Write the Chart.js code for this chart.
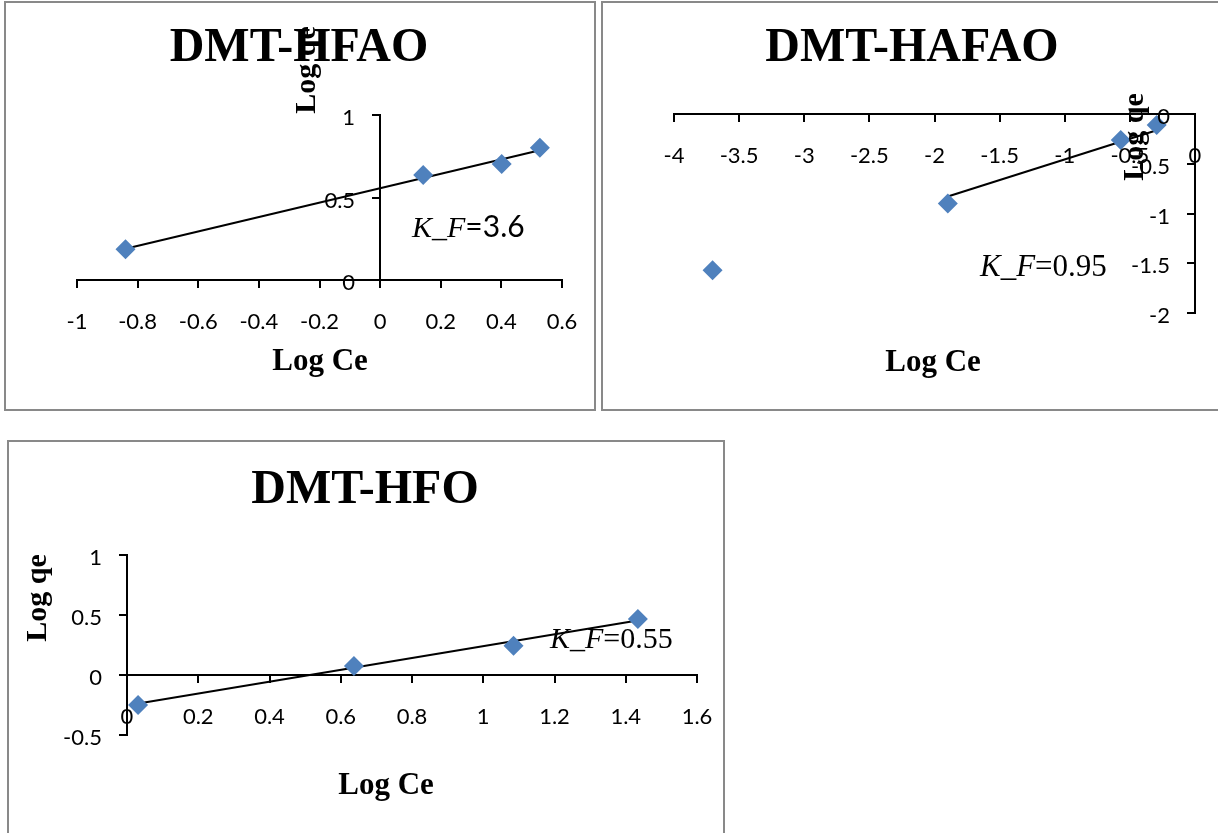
<!DOCTYPE html>
<html lang="en">
<head>
    <meta charset="UTF-8">
    <title>Freundlich isotherms</title>
    <script src="https://cdn.jsdelivr.net/npm/chart.js"></script>
    <style>
        * {
            margin: 0;
            padding: 0;
            box-sizing: content-box;
        }
        body {
            width: 1218px;
            height: 833px;
            overflow: hidden;
            background: #fff;
            position: relative;
        }
        .box {
            position: absolute;
            border: 2px solid #898989;
            background: #fff;
        }
        .box canvas {
            display: block;
        }
    </style>
</head>
<body>
    <div class="box" style="left:4px;top:1px;width:588px;height:406px;">
        <canvas id="hfao" width="588" height="406"></canvas>
    </div>
    <div class="box" style="left:601px;top:1px;width:615px;height:406px;">
        <canvas id="hafao" width="615" height="406"></canvas>
    </div>
    <div class="box" style="left:7px;top:440px;width:714px;height:396px;">
        <canvas id="hfo" width="714" height="396"></canvas>
    </div>
    <script>
        // DMT-HFAO
        const hfaoLogCe = [-0.84, 0.142, 0.401, 0.527];
        const hfaoLogQe = [0.186, 0.636, 0.703, 0.802];
        const hfaoFitCe = [-0.84, 0.527];
        const hfaoFitQe = [0.189, 0.786];
        const hfaoXTicks = [-1, -0.8, -0.6, -0.4, -0.2, 0, 0.2, 0.4, 0.6];
        const hfaoYTicks = [0, 0.5, 1];

        // DMT-HAFAO
        const hafaoLogCe = [-3.704, -1.898, -0.570, -0.294];
        const hafaoLogQe = [-1.571, -0.899, -0.262, -0.111];
        const hafaoFitCe = [-1.898, -0.294];
        const hafaoFitQe = [-0.829, -0.163];
        const hafaoXTicks = [-4, -3.5, -3, -2.5, -2, -1.5, -1, -0.5, 0];
        const hafaoYTicks = [-2, -1.5, -1, -0.5, 0];

        // DMT-HFO
        const hfoLogCe = [0.031, 0.637, 1.085, 1.434];
        const hfoLogQe = [-0.25, 0.075, 0.244, 0.467];
        const hfoFitCe = [0.032, 1.433];
        const hfoFitQe = [-0.238, 0.455];
        const hfoXTicks = [0, 0.2, 0.4, 0.6, 0.8, 1, 1.2, 1.4, 1.6];
        const hfoYTicks = [-0.5, 0, 0.5, 1];

        const MARKER = '#4F81BD';
        const SERIF = '"Liberation Serif", "Times New Roman", serif';

        function toPoints(xs, ys) {
            return xs.map((x, i) => ({ x: x, y: ys[i] }));
        }

        // tick labels (the axes cross at 0), titles, axis titles and the K_F note
        const textPlugin = {
            id: 'sketchText',
            afterDraw(chart, args, opts) {
                const ctx = chart.ctx;
                const xs = chart.scales.x;
                const ys = chart.scales.y;
                const axisX = xs.getPixelForValue(0);
                const axisY = ys.getPixelForValue(0);
                ctx.save();
                ctx.fillStyle = '#000';
                ctx.font = '22px Lato';
                ctx.textBaseline = 'middle';

                ctx.textAlign = 'right';
                opts.yTicks.forEach(v => {
                    ctx.fillText(String(v), axisX - 25, ys.getPixelForValue(v) + 3);
                });
                ctx.textAlign = 'center';
                opts.xTicks.forEach(v => {
                    ctx.fillText(String(v), xs.getPixelForValue(v), axisY + 42);
                });

                ctx.textBaseline = 'alphabetic';
                opts.items.forEach(it => {
                    ctx.save();
                    ctx.font = it.font;
                    ctx.textAlign = 'center';
                    ctx.translate(it.x, it.y);
                    if (it.rotate) ctx.rotate(-Math.PI / 2);
                    ctx.fillText(it.text, 0, 0);
                    ctx.restore();
                });

                let x = opts.note.x;
                ctx.textAlign = 'left';
                opts.note.parts.forEach(p => {
                    ctx.font = p.font;
                    ctx.fillText(p.text, x, opts.note.y);
                    x += ctx.measureText(p.text).width;
                });
                ctx.restore();
            }
        };

        function makeChart(id, cfg) {
            const grid = { display: true, drawOnChartArea: false, drawTicks: true, tickLength: 7, color: '#000', lineWidth: 2 };
            const border = { display: true, color: '#000', width: 2 };
            return new Chart(document.getElementById(id), {
                type: 'scatter',
                data: {
                    datasets: [{
                        data: toPoints(cfg.xs, cfg.ys),
                        showLine: false,
                        pointStyle: 'rectRot',
                        pointRadius: 10,
                        pointHoverRadius: 10,
                        borderWidth: 0,
                        backgroundColor: MARKER,
                        borderColor: MARKER,
                        clip: false
                    }, {
                        data: toPoints(cfg.fitX, cfg.fitY),
                        showLine: true,
                        pointRadius: 0,
                        borderColor: '#000',
                        borderWidth: 2,
                        clip: false
                    }]
                },
                options: {
                    responsive: false,
                    animation: false,
                    events: [],
                    layout: { padding: cfg.padding },
                    plugins: {
                        legend: { display: false },
                        tooltip: { enabled: false },
                        sketchText: { xTicks: cfg.xTicks, yTicks: cfg.yTicks, items: cfg.items, note: cfg.note }
                    },
                    scales: {
                        x: {
                            type: 'linear',
                            position: { y: 0 },
                            min: cfg.xTicks[0],
                            max: cfg.xTicks[cfg.xTicks.length - 1],
                            afterBuildTicks: s => { s.ticks = cfg.xTicks.map(v => ({ value: v })); },
                            ticks: { display: false },
                            grid: grid,
                            border: border
                        },
                        y: {
                            type: 'linear',
                            position: { x: 0 },
                            min: cfg.yTicks[0],
                            max: cfg.yTicks[cfg.yTicks.length - 1],
                            afterBuildTicks: s => { s.ticks = cfg.yTicks.map(v => ({ value: v })); },
                            ticks: { display: false },
                            grid: grid,
                            border: border
                        }
                    }
                },
                plugins: [textPlugin]
            });
        }

        makeChart('hfao', {
            xs: hfaoLogCe, ys: hfaoLogQe, fitX: hfaoFitCe, fitY: hfaoFitQe,
            xTicks: hfaoXTicks, yTicks: hfaoYTicks,
            padding: { left: 71, right: 32, top: 112, bottom: 129 },
            items: [
                { text: 'DMT-HFAO', x: 293, y: 58, font: 'bold 48px ' + SERIF },
                { text: 'Log Ce', x: 314, y: 367, font: 'bold 31px ' + SERIF },
                { text: 'Log qe', x: 309, y: 67, font: 'bold 30px ' + SERIF, rotate: true }
            ],
            note: { x: 406, y: 234, parts: [
                { text: 'K_F', font: 'italic 30px ' + SERIF },
                { text: '=3.6', font: '30px Lato' }
            ] }
        });

        makeChart('hafao', {
            xs: hafaoLogCe, ys: hafaoLogQe, fitX: hafaoFitCe, fitY: hafaoFitQe,
            xTicks: hafaoXTicks, yTicks: hafaoYTicks,
            padding: { left: 71, right: 23, top: 111, bottom: 96 },
            items: [
                { text: 'DMT-HAFAO', x: 309, y: 58, font: 'bold 48px ' + SERIF },
                { text: 'Log Ce', x: 330, y: 368, font: 'bold 31px ' + SERIF },
                { text: 'Log qe', x: 540, y: 134, font: 'bold 30px ' + SERIF, rotate: true }
            ],
            note: { x: 377, y: 273, parts: [
                { text: 'K_F', font: 'italic 31px ' + SERIF },
                { text: '=0.95', font: '31px ' + SERIF }
            ] }
        });

        makeChart('hfo', {
            xs: hfoLogCe, ys: hfoLogQe, fitX: hfoFitCe, fitY: hfoFitQe,
            xTicks: hfoXTicks, yTicks: hfoYTicks,
            padding: { left: 118, right: 26, top: 113, bottom: 103 },
            items: [
                { text: 'DMT-HFO', x: 356, y: 61, font: 'bold 48px ' + SERIF },
                { text: 'Log Ce', x: 377, y: 352, font: 'bold 31px ' + SERIF },
                { text: 'Log qe', x: 37, y: 156, font: 'bold 30px ' + SERIF, rotate: true }
            ],
            note: { x: 541, y: 206, parts: [
                { text: 'K_F', font: 'italic 30px ' + SERIF },
                { text: '=0.55', font: '30px ' + SERIF }
            ] }
        });
    </script>
</body>
</html>
